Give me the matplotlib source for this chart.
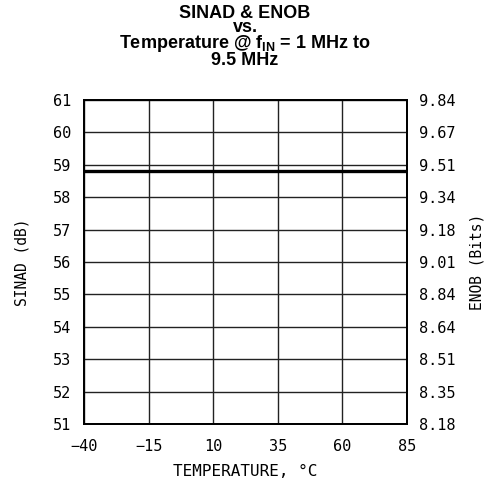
import matplotlib.pyplot as plt

# SINAD / ENOB vs temperature
temps = [-40, -15, 10, 35, 60, 85]
sinad = [58.8, 58.8, 58.8, 58.8, 58.8, 58.8]

sinad_ticks = [51, 52, 53, 54, 55, 56, 57, 58, 59, 60, 61]
enob_labels = ['8.18', '8.35', '8.51', '8.64', '8.84', '9.01',
               '9.18', '9.34', '9.51', '9.67', '9.84']

plt.rcParams['mathtext.fontset'] = 'custom'
plt.rcParams['mathtext.rm'] = 'Liberation Sans:bold'
plt.rcParams['mathtext.bf'] = 'Liberation Sans:bold'

mono = 'DejaVu Sans Mono'

fig = plt.figure(figsize=(4.93, 4.93), dpi=100)
ax = fig.add_axes([84 / 493, 1 - 424 / 493, 323 / 493, 324 / 493])

# grid first, then the data line on top
ax.set_xlim(-40, 85)
ax.set_ylim(51, 61)
ax.set_xticks(temps)
ax.set_yticks(sinad_ticks)
ax.grid(True, color='#222222', linewidth=1.0)
ax.set_axisbelow(True)
ax.plot(temps, sinad, color='black', linewidth=2.4, solid_capstyle='butt')

for s in ax.spines.values():
    s.set_linewidth(1.3)

ax.tick_params(length=0, pad=9, labelsize=11)
ax.tick_params(axis='x', pad=11)
for lbl in ax.get_xticklabels() + ax.get_yticklabels():
    lbl.set_family(mono)

# right side ENOB scale
ax2 = ax.twinx()
ax2.set_ylim(51, 61)
ax2.set_yticks(sinad_ticks)
ax2.set_yticklabels(enob_labels, family=mono, fontsize=11)
ax2.tick_params(length=0, pad=9)
for s in ax2.spines.values():
    s.set_linewidth(1.3)

fig.text(22 / 493, 1 - 262 / 493, 'SINAD (dB)', family=mono, fontsize=10.5,
         rotation=90, ha='center', va='center')
fig.text(477 / 493, 1 - 262 / 493, 'ENOB (Bits)', family=mono, fontsize=10.5,
         rotation=90, ha='center', va='center')
fig.text(245 / 493, 1 - 471 / 493, 'TEMPERATURE, °C', family=mono, fontsize=11.5,
         ha='center', va='center')

title = ('SINAD & ENOB\nvs.\n'
         r'Temperature @ f$_{\mathrm{IN}}$ = 1 MHz to' '\n9.5 MHz')
fig.text(245 / 493, 1 - 5 / 493, title, family='Liberation Sans',
         weight='bold', fontsize=13, ha='center', va='top',
         multialignment='center', linespacing=0.8)

fig.savefig('out.png', dpi=100)
